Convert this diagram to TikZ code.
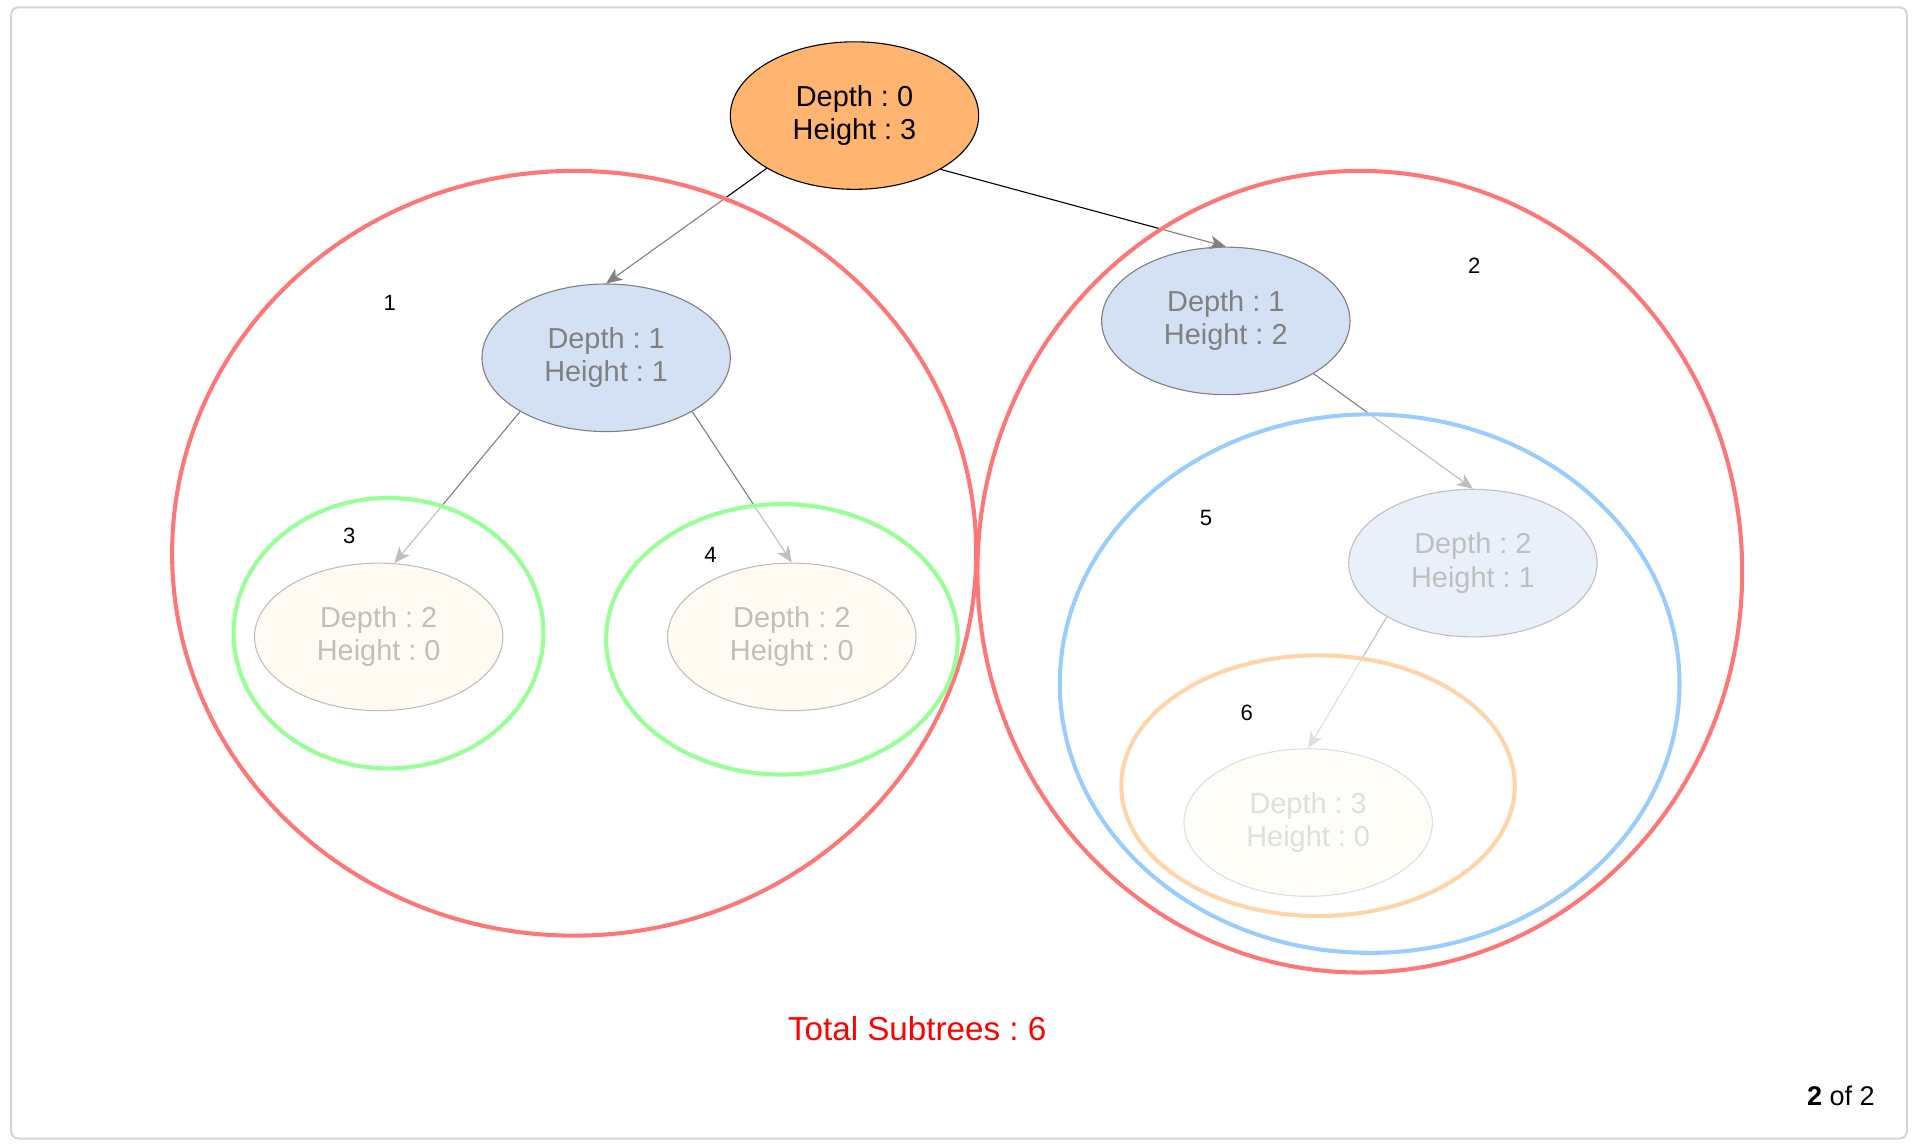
\documentclass[tikz,border=0pt]{standalone}
\usepackage{fontspec}
\setmainfont{Liberation Sans}
\usepackage{xcolor}
\usetikzlibrary{shapes.geometric,arrows.meta}
\frenchspacing

\definecolor{rootfill}{HTML}{FFB570}
\definecolor{bluefill}{HTML}{A9C4EB}
\definecolor{yellowfill}{HTML}{FFF2CC}
\definecolor{redring}{HTML}{FF7676}
\definecolor{greenring}{HTML}{96FF96}
\definecolor{bluering}{HTML}{99CCFF}
\definecolor{orangering}{HTML}{FFD4A8}
\definecolor{framegray}{HTML}{D4D4D8}

\begin{document}
\begin{tikzpicture}[
    x=1pt, y=-1pt,
    tree_node/.style={draw=black, line width=0.9pt, ellipse, minimum width=202pt,
                      minimum height=120pt, inner sep=0pt, align=center,
                      font=\fontsize{23.5}{27}\selectfont},
    edge/.style={draw=black, line width=0.9pt, -{Stealth[length=13pt, width=11pt, inset=3.5pt]}},
    ring/.style={draw=#1, line width=3.3pt, fill=white, fill opacity=0.5, draw opacity=1},
    ring_label/.style={font=\fontsize{18}{18}\selectfont, black}
]
\useasboundingbox (0,0) rectangle (1560,930);

% Frame
\draw[framegray, line width=1.6pt, rounded corners=6pt] (9,6) rectangle (1551,926);

% Tree nodes
\node[tree_node, fill=rootfill]   (d0)  at (695,94)  {Depth : 0\\Height : 3};
\node[tree_node, fill=bluefill]   (d1a) at (493,291) {Depth : 1\\Height : 1};
\node[tree_node, fill=bluefill]   (d1b) at (997,261) {Depth : 1\\Height : 2};
\node[tree_node, fill=yellowfill] (d2a) at (308,518) {Depth : 2\\Height : 0};
\node[tree_node, fill=yellowfill] (d2b) at (644,518) {Depth : 2\\Height : 0};
\node[tree_node, fill=bluefill]   (d2c) at (1198,458) {Depth : 2\\Height : 1};
\node[tree_node, fill=yellowfill] (d3)  at (1064,669) {Depth : 3\\Height : 0};

% Edges
\draw[edge] (d0.-149) -- (d1a.north);
\draw[edge] (d0.-32) -- (d1b.north);
\draw[edge] (d1a.-148) -- (d2a.78);
\draw[edge] (d1a.-32) -- (d2b.north);
\draw[edge] (d1b.-31) -- (d2c.north);
\draw[edge] (d2c.-148) -- (d3.north);

% Subtree rings (half white veil over what they hold)
\draw[ring=redring]    (467,450)  ellipse [x radius=327pt, y radius=311pt];
\draw[ring=redring]    (1106,465) ellipse [x radius=311pt, y radius=326pt];
\draw[ring=greenring]  (316,515)  ellipse [x radius=126pt, y radius=110pt];
\draw[ring=greenring]  (636,520)  ellipse [x radius=143pt, y radius=110pt];
\draw[ring=bluering]   (1114,556) ellipse [x radius=252pt, y radius=219pt];
\draw[ring=orangering] (1072,639) ellipse [x radius=160pt, y radius=106pt];

% Subtree numbers
\foreach \num/\px/\py in {1/317/246, 2/1199/216, 3/284/436, 4/578/451, 5/981/421, 6/1014/580} {
    \node[ring_label] (lbl\num) at (\px,\py) {\num};
}

% Total
\node[font=\fontsize{27}{27}\selectfont, text=red] (total) at (746,837) {Total Subtrees : 6};

% Page counter
\node[font=\fontsize{22}{22}\selectfont, anchor=east, inner sep=0pt] (page) at (1525,891) {\textbf{2} of 2};

\end{tikzpicture}
\end{document}
